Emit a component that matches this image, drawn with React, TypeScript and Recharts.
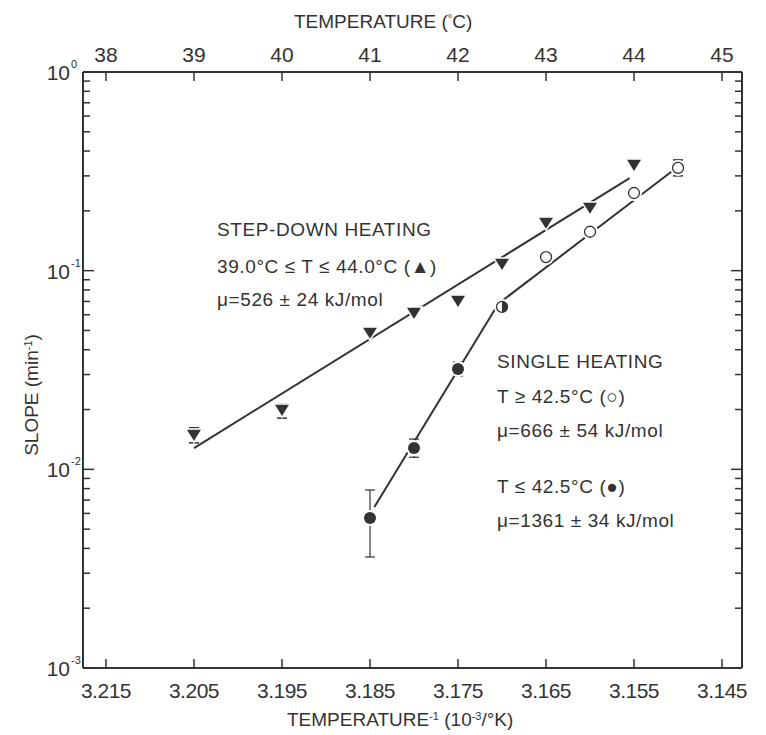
import {
  ComposedChart,
  ErrorBar,
  Line,
  Scatter,
  XAxis,
  YAxis,
} from 'recharts'

// x = 1/T (10^-3 / K), y = slope (min^-1)
const stepDownX = [3.205, 3.195, 3.185, 3.18, 3.175, 3.17, 3.165, 3.16, 3.155]
const stepDownY = [0.0149, 0.0199, 0.0486, 0.0612, 0.0704, 0.108, 0.174, 0.207, 0.34]
// [below, above] error deltas, null = no bar
const stepDownErr: ([number, number] | null)[] = [
  [0.0013, 0.0013], [0.0018, 0.0014], null, null, null, null, null, null, null,
]

const openX = [3.165, 3.16, 3.155, 3.15]
const openY = [0.117, 0.157, 0.246, 0.329]
const openErr: ([number, number] | null)[] = [null, null, null, [0.029, 0.032]]

const filledX = [3.185, 3.18, 3.175]
const filledY = [0.00569, 0.0128, 0.032]
const filledErr: ([number, number] | null)[] = [[0.00207, 0.00218], [0.0013, 0.0014], [0.0025, 0.0027]]

const halfX = [3.17]
const halfY = [0.0657]

// fitted lines (end points)
const stepFitX = [3.205, 3.1555]
const stepFitY = [0.0128, 0.292]
const lowFitX = [3.1845, 3.1705]
const lowFitY = [0.00647, 0.0672]
const highFitX = [3.17, 3.1505]
const highFitY = [0.0704, 0.321]

const bottomTicks = [3.215, 3.205, 3.195, 3.185, 3.175, 3.165, 3.155, 3.145]
const topTicks = [38, 39, 40, 41, 42, 43, 44, 45]
const slopeTicks = [
  0.001, 0.002, 0.003, 0.004, 0.005, 0.006, 0.007, 0.008, 0.009,
  0.01, 0.02, 0.03, 0.04, 0.05, 0.06, 0.07, 0.08, 0.09,
  0.1, 0.2, 0.3, 0.4, 0.5, 0.6, 0.7, 0.8, 0.9,
  1,
]

const INK = '#333'
const FONT = '"Liberation Sans", Arial, sans-serif'

const pts = (xs: number[], ys: number[], errs?: ([number, number] | null)[]) =>
  xs.map((x, i) => ({ x, y: ys[i], err: errs ? errs[i] : null }))

// helper so the top (°C) axis has something bound to it
const topAnchor = topTicks.map((t) => ({ x: t, y: 1 }))

const isMajor = (v: number) => Math.abs(Math.log10(v) - Math.round(Math.log10(v))) < 1e-6

function LeftTick({ x, y, payload }: any) {
  const v = payload.value as number
  const major = isMajor(v)
  const exp = Math.round(Math.log10(v))
  return (
    <g>
      <line x1={x} x2={x + (major ? 11 : 7)} y1={y} y2={y} stroke={INK} strokeWidth={1.5} />
      {major && (
        <text x={x - 13} y={y + 8} textAnchor="end" fill={INK} fontSize={21} fontFamily={FONT}>
          10
        </text>
      )}
      {major && (
        <text x={x - 12} y={y - 4} textAnchor="start" fill={INK} fontSize={11} fontFamily={FONT}>
          {exp === 0 ? '0' : `-${-exp}`}
        </text>
      )}
    </g>
  )
}

function RightTick({ x, y, payload }: any) {
  const major = isMajor(payload.value)
  return <line x1={x} x2={x - (major ? 11 : 7)} y1={y} y2={y} stroke={INK} strokeWidth={1.5} />
}

function BottomTick({ x, y, payload }: any) {
  return (
    <g>
      <line x1={x} x2={x} y1={y} y2={y - 9} stroke={INK} strokeWidth={1.5} />
      <text x={x} y={y + 30} textAnchor="middle" fill={INK} fontSize={21} fontFamily={FONT} letterSpacing={-0.5}>
        {payload.value.toFixed(3)}
      </text>
    </g>
  )
}

function TopTick({ x, y, payload }: any) {
  return (
    <g>
      <line x1={x} x2={x} y1={y} y2={y + 9} stroke={INK} strokeWidth={1.5} />
      <text x={x} y={y - 10} textAnchor="middle" fill={INK} fontSize={21} fontFamily={FONT}>
        {payload.value}
      </text>
    </g>
  )
}

function TriDown({ cx, cy }: any) {
  const s = 7
  return (
    <path
      d={`M${cx - s},${cy - s * 0.75} L${cx + s},${cy - s * 0.75} L${cx},${cy + s * 0.85} Z`}
      fill={INK}
      stroke="#fff"
      strokeWidth={3}
      paintOrder="stroke"
    />
  )
}

function OpenDot({ cx, cy }: any) {
  return (
    <g>
      <circle cx={cx} cy={cy} r={8} fill="#fff" />
      <circle cx={cx} cy={cy} r={5.5} fill="#fff" stroke={INK} strokeWidth={1.3} />
    </g>
  )
}

function FilledDot({ cx, cy }: any) {
  return (
    <g>
      <circle cx={cx} cy={cy} r={8} fill="#fff" />
      <circle cx={cx} cy={cy} r={6} fill={INK} />
    </g>
  )
}

function HalfDot({ cx, cy }: any) {
  const r = 5.5
  return (
    <g>
      <circle cx={cx} cy={cy} r={8} fill="#fff" />
      <circle cx={cx} cy={cy} r={r} fill="#fff" stroke={INK} strokeWidth={1.3} />
      <path d={`M${cx},${cy - r} A${r},${r} 0 0 1 ${cx},${cy + r} Z`} fill={INK} />
    </g>
  )
}

const Nothing = () => null

const textStyle = {
  position: 'absolute' as const,
  color: INK,
  fontFamily: FONT,
  fontSize: 19,
  letterSpacing: 0.6,
  whiteSpace: 'nowrap' as const,
  lineHeight: '20px',
}

const sup = { fontSize: 11, verticalAlign: 'top', lineHeight: '12px' }

export default function App() {
  return (
    <div style={{ position: 'absolute', left: 0, top: 0, width: 766, height: 735, background: '#fff', overflow: 'hidden' }}>
      <ComposedChart width={766} height={735} margin={{ top: 0, right: 0, bottom: 0, left: 0 }}>
        <XAxis
          xAxisId="b"
          dataKey="x"
          type="number"
          orientation="bottom"
          domain={[3.14273, 3.21761]}
          reversed
          ticks={bottomTicks}
          height={67}
          tickSize={0}
          tickMargin={0}
          tick={<BottomTick />}
          axisLine={{ stroke: INK, strokeWidth: 2 }}
          allowDataOverflow
        />
        <XAxis
          xAxisId="t"
          dataKey="x"
          type="number"
          orientation="top"
          domain={[37.739, 45.227]}
          ticks={topTicks}
          interval={0}
          height={72}
          tickSize={0}
          tickMargin={0}
          tick={<TopTick />}
          axisLine={{ stroke: INK, strokeWidth: 2 }}
          allowDataOverflow
        />
        <YAxis
          yAxisId="l"
          dataKey="y"
          scale="log"
          type="number"
          domain={[0.001, 1]}
          ticks={slopeTicks}
          interval={0}
          width={83}
          tickSize={0}
          tickMargin={0}
          tick={<LeftTick />}
          axisLine={{ stroke: INK, strokeWidth: 2 }}
          allowDataOverflow
        />
        <YAxis
          yAxisId="r"
          dataKey="y"
          orientation="right"
          scale="log"
          type="number"
          domain={[0.001, 1]}
          ticks={slopeTicks}
          interval={0}
          width={24}
          tickSize={0}
          tickMargin={0}
          tick={<RightTick />}
          axisLine={{ stroke: INK, strokeWidth: 2 }}
          allowDataOverflow
        />

        <Scatter xAxisId="t" yAxisId="r" data={topAnchor} dataKey="y" shape={<Nothing />} isAnimationActive={false} />

        <Line xAxisId="b" yAxisId="l" data={pts(stepFitX, stepFitY)} dataKey="y" stroke={INK} strokeWidth={2} dot={false} isAnimationActive={false} />
        <Line xAxisId="b" yAxisId="l" data={pts(lowFitX, lowFitY)} dataKey="y" stroke={INK} strokeWidth={2} dot={false} isAnimationActive={false} />
        <Line xAxisId="b" yAxisId="l" data={pts(highFitX, highFitY)} dataKey="y" stroke={INK} strokeWidth={2} dot={false} isAnimationActive={false} />

        <Scatter xAxisId="b" yAxisId="l" data={pts(stepDownX, stepDownY, stepDownErr)} dataKey="y" shape={<TriDown />} isAnimationActive={false}>
          <ErrorBar dataKey="err" direction="y" width={5} stroke={INK} strokeWidth={1.5} />
        </Scatter>
        <Scatter xAxisId="b" yAxisId="l" data={pts(openX, openY, openErr)} dataKey="y" shape={<OpenDot />} isAnimationActive={false}>
          <ErrorBar dataKey="err" direction="y" width={5} stroke={INK} strokeWidth={1.5} />
        </Scatter>
        <Scatter xAxisId="b" yAxisId="l" data={pts(filledX, filledY, filledErr)} dataKey="y" shape={<FilledDot />} isAnimationActive={false}>
          <ErrorBar dataKey="err" direction="y" width={5} stroke={INK} strokeWidth={1.2} />
        </Scatter>
        <Scatter xAxisId="b" yAxisId="l" data={pts(halfX, halfY)} dataKey="y" shape={<HalfDot />} isAnimationActive={false} />
      </ComposedChart>

      <div style={{ ...textStyle, left: 294, top: 12, fontSize: 19, letterSpacing: 0 }}>
        TEMPERATURE (<sup style={sup}>°</sup>C)
      </div>
      <div style={{ ...textStyle, left: 287, top: 710, fontSize: 19, letterSpacing: 0 }}>
        TEMPERATURE<sup style={sup}>-1</sup> (10<sup style={sup}>-3</sup>/°K)
      </div>
      <div
        style={{
          ...textStyle,
          left: 32,
          top: 395,
          transform: 'translate(-50%, -50%) rotate(-90deg)',
          letterSpacing: 0,
        }}
      >
        SLOPE (min<sup style={sup}>-1</sup>)
      </div>

      <div style={{ ...textStyle, left: 217, top: 220 }}>STEP-DOWN HEATING</div>
      <div style={{ ...textStyle, left: 217, top: 257 }}>39.0°C ≤ T ≤ 44.0°C (▲)</div>
      <div style={{ ...textStyle, left: 217, top: 290 }}>μ=526 ± 24 kJ/mol</div>

      <div style={{ ...textStyle, left: 497, top: 352 }}>SINGLE HEATING</div>
      <div style={{ ...textStyle, left: 497, top: 387 }}>T ≥ 42.5°C (○)</div>
      <div style={{ ...textStyle, left: 497, top: 421 }}>μ=666 ± 54 kJ/mol</div>
      <div style={{ ...textStyle, left: 497, top: 477 }}>T ≤ 42.5°C (●)</div>
      <div style={{ ...textStyle, left: 497, top: 511 }}>μ=1361 ± 34 kJ/mol</div>
    </div>
  )
}
